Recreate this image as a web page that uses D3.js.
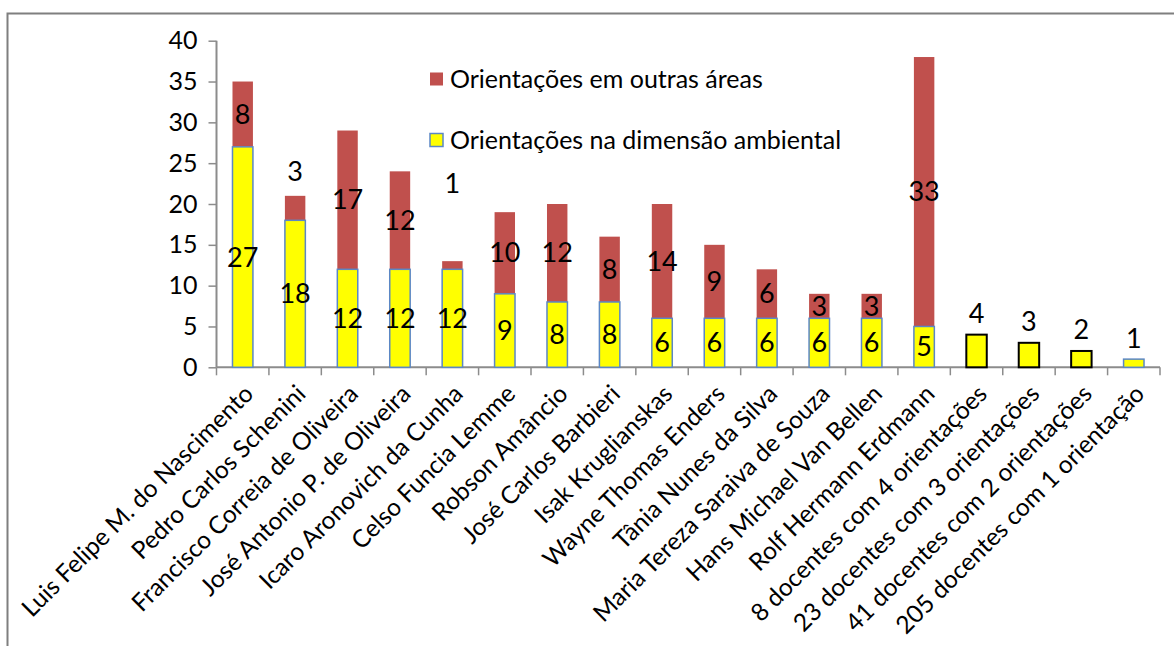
<!DOCTYPE html>
<html>
<head>
<meta charset="utf-8">
<script src="https://cdn.jsdelivr.net/npm/d3@7"></script>
<style>
  html, body { margin: 0; padding: 0; background: #fff; }
  svg { display: block; font-family: Lato, "Open Sans", sans-serif; }
</style>
</head>
<body>
<div id="chart"></div>
<script>
// categorias (orientadores)
const categories = [
  "Luis Felipe M. do Nascimento",
  "Pedro Carlos Schenini",
  "Francisco Correia de Oliveira",
  "José Antonio P. de Oliveira",
  "Icaro Aronovich da Cunha",
  "Celso Funcia Lemme",
  "Robson Amâncio",
  "José Carlos Barbieri",
  "Isak Kruglianskas",
  "Wayne Thomas Enders",
  "Tânia Nunes da Silva",
  "Maria Tereza Saraiva de Souza",
  "Hans Michael Van Bellen",
  "Rolf Hermann Erdmann",
  "8 docentes com 4 orientações",
  "23 docentes com 3 orientações",
  "41 docentes com 2 orientações",
  "205 docentes com 1 orientação"
];
// orientações na dimensão ambiental
const ambiental = [27, 18, 12, 12, 12, 9, 8, 8, 6, 6, 6, 6, 6, 5, 4, 3, 2, 1];
// orientações em outras áreas
const outras = [8, 3, 17, 12, 1, 10, 12, 8, 14, 9, 6, 3, 3, 33, 0, 0, 0, 0];
const yTicks = [0, 5, 10, 15, 20, 25, 30, 35, 40];
const seriesNames = ["Orientações em outras áreas", "Orientações na dimensão ambiental"];

const W = 1174, H = 646;
const x0 = 216.5, x1 = 1160, yTop = 40.7, yBot = 367.3;

const svg = d3.select("#chart").append("svg").attr("width", W).attr("height", H);

// moldura
svg.append("path")
  .attr("d", `M7.5,${H} V13.5 H${W}`)
  .attr("fill", "none").attr("stroke", "#7f7f7f").attr("stroke-width", 2);

const x = d3.scaleBand().domain(categories).range([x0, x1]).paddingInner(0.61).paddingOuter(0.305);
const y = d3.scaleLinear().domain([0, 40]).range([yBot, yTop]);

const RED = "#c0504d", YEL = "#ffff00", BLUE = "#5b87c5";

// eixo y
const yAxis = svg.append("g").attr("transform", `translate(${x0},0)`)
  .call(d3.axisLeft(y).tickValues(yTicks).tickSize(8).tickPadding(11));
yAxis.select(".domain").attr("stroke", "#8c8c8c").attr("stroke-width", 2).attr("d", `M0,${yTop}V${yBot}`);
yAxis.selectAll(".tick line").attr("stroke", "#8c8c8c").attr("stroke-width", 1.5);
yAxis.selectAll(".tick text").attr("font-size", 25).attr("font-family", "Lato").attr("fill", "#000");

// eixo x
const step = (x1 - x0) / categories.length;
const gx = svg.append("g");
gx.append("line").attr("x1", x0).attr("x2", x1).attr("y1", yBot).attr("y2", yBot)
  .attr("stroke", "#8c8c8c").attr("stroke-width", 2);
gx.selectAll("line.tk").data(d3.range(categories.length + 1)).join("line")
  .attr("class", "tk")
  .attr("x1", i => x0 + i * step).attr("x2", i => x0 + i * step)
  .attr("y1", yBot).attr("y2", yBot + 8)
  .attr("stroke", "#8c8c8c").attr("stroke-width", 1.5);

gx.selectAll("text.cat").data(categories).join("text")
  .attr("class", "cat")
  .attr("transform", d => `translate(${x(d) + x.bandwidth() / 2 + 6},${yBot + 22}) rotate(-45)`)
  .attr("text-anchor", "end")
  .attr("dy", "0.35em")
  .attr("font-size", 24.5)
  .text(d => d);

// barras
const data = categories.map((c, i) => ({ c, i, a: ambiental[i], o: outras[i] }));
const blackEdge = i => i >= 14 && i <= 16;

svg.append("g").selectAll("rect").data(data.filter(d => d.o > 0)).join("rect")
  .attr("x", d => x(d.c)).attr("width", x.bandwidth())
  .attr("y", d => y(d.a + d.o)).attr("height", d => y(d.a) - y(d.a + d.o))
  .attr("fill", RED);

svg.append("g").selectAll("rect").data(data).join("rect")
  .attr("x", d => x(d.c)).attr("width", x.bandwidth())
  .attr("y", d => y(d.a)).attr("height", d => y(0) - y(d.a))
  .attr("fill", YEL)
  .attr("stroke", d => blackEdge(d.i) ? "#000" : BLUE)
  .attr("stroke-width", d => blackEdge(d.i) ? 2 : 1.5);

// rótulos de valores
const labelFont = 27;
const lab = svg.append("g").attr("font-size", labelFont).attr("text-anchor", "middle").attr("fill", "#000");
// rótulos deslocados manualmente (em unidades do eixo)
const liftedRed = { 1: 24, 4: 22.5 };
data.forEach(d => {
  const cx = x(d.c) + x.bandwidth() / 2;
  if (d.o > 0) {
    lab.append("text").attr("x", cx).attr("dy", "0.35em")
      .attr("y", y(liftedRed[d.i] !== undefined ? liftedRed[d.i] : d.a + d.o / 2))
      .text(d.o);
    lab.append("text").attr("x", cx).attr("dy", "0.35em").attr("y", y(d.a / 2)).text(d.a);
  } else {
    lab.append("text").attr("x", cx).attr("dy", "0.35em").attr("y", y(d.a) - 21).text(d.a);
  }
});

// legenda
const leg = svg.append("g").attr("font-size", 25);
const legItems = [
  { name: seriesNames[0], fill: RED, stroke: "none", y: 79.5 },
  { name: seriesNames[1], fill: YEL, stroke: BLUE, y: 140.5 }
];
legItems.forEach(it => {
  leg.append("rect").attr("x", 430).attr("y", it.y - 7).attr("width", 13).attr("height", 13)
    .attr("fill", it.fill).attr("stroke", it.stroke).attr("stroke-width", 1.5);
  leg.append("text").attr("x", 450).attr("y", it.y).attr("dy", "0.35em").text(it.name);
});
</script>
</body>
</html>
